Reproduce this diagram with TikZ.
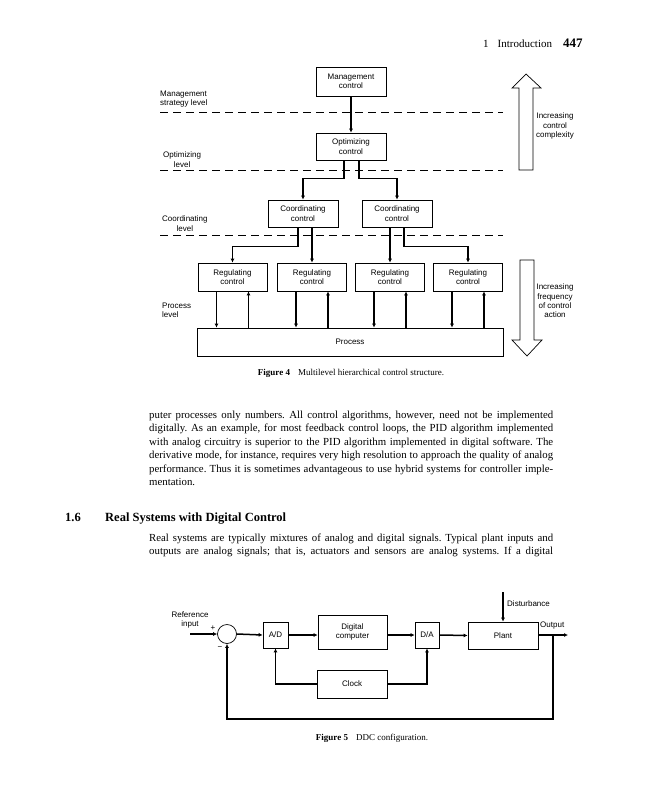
\documentclass[tikz,border=0pt]{standalone}
\usepackage{fontspec}
\setmainfont{Liberation Serif}
\setsansfont{Liberation Sans}
\usetikzlibrary{arrows.meta}
\frenchspacing
\begin{document}
\begin{tikzpicture}[x=1pt,y=-1pt,
  lbl/.style={font=\sffamily\fontsize{8}{9.3}\selectfont, align=center, inner sep=0pt},
  box/.style={draw, line width=0.7pt, lbl},
  conn/.style={line width=1.5pt, -{Latex[length=4pt,width=4pt]}},
  lvl/.style={line width=0.7pt, dash pattern=on 8pt off 5pt},
  bigarrow/.style={draw, line width=0.7pt},
  bodyline/.style={anchor=base west, inner sep=0pt, font=\fontsize{10.8}{12}\selectfont},
  capt/.style={anchor=base, inner sep=0pt, font=\fontsize{9}{11}\selectfont}]
\useasboundingbox (0,0) rectangle (647,800);
\fill[white] (0,0) rectangle (647,800);

% header
\node[anchor=base west, inner sep=0pt, font=\fontsize{11}{12}\selectfont] (hdr) at (483,48)
  {1\hspace{9pt}Introduction\hspace{11pt}{\bfseries\fontsize{13}{14}\selectfont 447}};

% ---------------- Figure 4 ----------------
\node[box, minimum width=70pt, minimum height=29pt] (mgmt) at (351,81.5) {Management\\control};
\node[box, minimum width=70pt, minimum height=27pt] (opt) at (351,146.5) {Optimizing\\control};
\node[box, minimum width=70pt, minimum height=27pt] (coordL) at (303,213.5) {Coordinating\\control};
\node[box, minimum width=70pt, minimum height=27pt] (coordR) at (397,213.5) {Coordinating\\control};
\node[box, minimum width=69pt, minimum height=28pt] (reg1) at (232.5,277) {Regulating\\control};
\node[box, minimum width=69pt, minimum height=28pt] (reg2) at (312,277) {Regulating\\control};
\node[box, minimum width=69pt, minimum height=28pt] (reg3) at (390,277) {Regulating\\control};
\node[box, minimum width=69pt, minimum height=28pt] (reg4) at (468,277) {Regulating\\control};
\node[box, minimum width=306pt, minimum height=28pt] (proc) at (350,342) {Process};

% level lines and labels
\draw[lvl] (160,112) -- (503,112);
\draw[lvl] (160,170) -- (503,170);
\draw[lvl] (160,235) -- (503,235);
\node[lbl, align=left, anchor=west] (lmg) at (160,99) {Management\\strategy level};
\node[lbl, anchor=west] (lopt) at (163,159.5) {Optimizing\\level};
\node[lbl, anchor=west] (lco) at (162,223.5) {Coordinating\\level};
\node[lbl, align=left, anchor=west] (lpr) at (162,310.5) {Process\\level};

% connectors
\draw[conn] (mgmt.south) -- (opt.north);
\draw[conn] ([xshift=-7pt]opt.south) -- ++(0,18) -| (coordL.north);
\draw[conn] ([xshift=8pt]opt.south) -- ++(0,18) -| (coordR.north);
\draw[conn] ([xshift=-5pt]coordL.south) -- ++(0,19) -| (reg1.north);
\draw[conn] ([xshift=9pt]coordL.south) -- (reg2.north);
\draw[conn] ([xshift=-7pt]coordR.south) -- (reg3.north);
\draw[conn] ([xshift=7pt]coordR.south) -- ++(0,19) -| (reg4.north);
\foreach \r in {reg1,reg2,reg3,reg4}{
  \draw[conn] ([xshift=-16pt]\r.south) -- ([xshift=-16pt]\r.south |- proc.north);
  \draw[conn] ([xshift=16pt]\r.south |- proc.north) -- ([xshift=16pt]\r.south);
}

% big arrows
\draw[bigarrow] (519,170) -- (519,88) -- (512,88) -- (526,74) -- (541,88) -- (533,88) -- (533,170) -- cycle;
\draw[bigarrow] (520,260) -- (520,340) -- (512,340) -- (527,356) -- (542,340) -- (534,340) -- (534,260) -- cycle;
\node[lbl] (tup) at (555,126) {Increasing\\control\\complexity};
\node[lbl] (tdn) at (555,301) {Increasing\\frequency\\of control\\action};

\node[capt] (cap4) at (351,375) {\textbf{Figure 4}\hspace{8pt}Multilevel hierarchical control structure.};

% ---------------- body text ----------------
\node[bodyline] (p1a) at (149,418) {\hbox to 404pt{puter processes only numbers. All control algorithms, however, need not be implemented}};
\node[bodyline] (p1b) at (149,431.5) {\hbox to 404pt{digitally. As an example, for most feedback control loops, the PID algorithm implemented}};
\node[bodyline] (p1c) at (149,445) {\hbox to 404pt{with analog circuitry is superior to the PID algorithm implemented in digital software. The}};
\node[bodyline] (p1d) at (149,458.5) {\hbox to 404pt{derivative mode, for instance, requires very high resolution to approach the quality of analog}};
\node[bodyline] (p1e) at (149,472) {\hbox to 404pt{performance. Thus it is sometimes advantageous to use hybrid systems for controller imple-}};
\node[bodyline] (p1f) at (149,485.5) {mentation.};

\node[anchor=base west, inner sep=0pt, font=\bfseries\fontsize{12.5}{14}\selectfont] (sec) at (65,521) {1.6};
\node[anchor=base west, inner sep=0pt, font=\bfseries\fontsize{12.5}{14}\selectfont] (sect) at (105,521) {Real Systems with Digital Control};

\node[bodyline] (p2a) at (149,541) {\hbox to 404pt{Real systems are typically mixtures of analog and digital signals. Typical plant inputs and}};
\node[bodyline] (p2b) at (149,554.5) {\hbox to 404pt{outputs are analog signals; that is, actuators and sensors are analog systems. If a digital}};

% ---------------- Figure 5 ----------------
\node[draw, circle, line width=0.7pt, minimum size=19pt, inner sep=0pt] (sum) at (227,634) {};
\node[box, minimum width=25pt, minimum height=26pt] (ad) at (275.5,635) {A/D};
\node[box, minimum width=69pt, minimum height=34pt] (dc) at (352.5,632) {Digital\\computer};
\node[box, minimum width=24pt, minimum height=26pt] (da) at (427,635) {D/A};
\node[box, minimum width=70pt, minimum height=27pt] (plant) at (503,635.5) {Plant};
\node[box, minimum width=70pt, minimum height=28pt] (clock) at (352,684) {Clock};

\coordinate (refin) at (190,634);
\coordinate (dist) at (503,592);
\coordinate (out) at (568,635);
\coordinate (tap) at (553,635);
\coordinate (fbot) at (553,719);

\node[lbl] (lref) at (190,620) {Reference\\input};
\node[lbl, anchor=west] (ldist) at (507,604) {Disturbance};
\node[lbl, anchor=west] (lout) at (540,626) {Output};
\node[lbl] (lplus) at (213,628) {+};
\node[lbl] (lminus) at (220,648) {\textminus};

\draw[conn] (refin) -- (sum.west);
\draw[conn] (sum.east) -- (ad.west);
\draw[conn] (ad.east) -- (ad.east -| dc.west);
\draw[conn] (dc.east |- da.west) -- (da.west);
\draw[conn] (da.east) -- (plant.west);
\draw[conn] (dist) -- (plant.north);
\draw[conn] (plant.east |- out) -- (out);
\draw[conn] (tap) -- (fbot) -| (sum.south);
\draw[conn] (clock.west) -| (ad.south);
\draw[conn] (clock.east) -| (da.south);

\node[capt] (cap5) at (372,740) {\textbf{Figure 5}\hspace{8pt}DDC configuration.};
\end{tikzpicture}
\end{document}
